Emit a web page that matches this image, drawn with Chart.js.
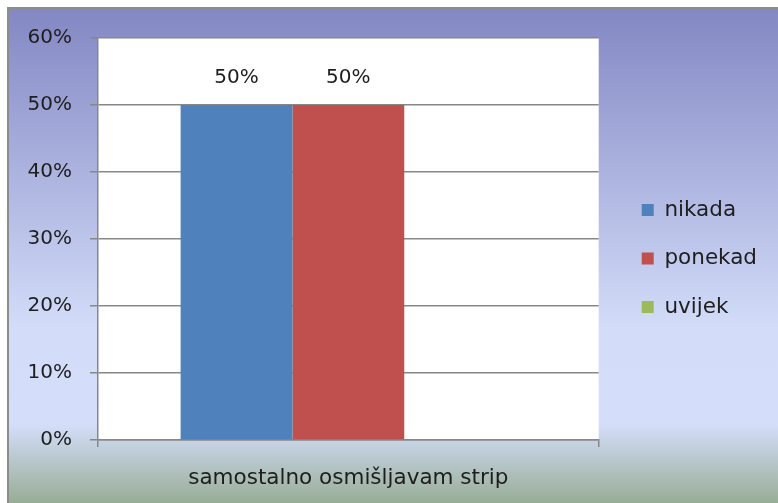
<!DOCTYPE html>
<html>
<head>
<meta charset="utf-8">
<title>samostalno osmišljavam strip</title>
<script src="https://cdn.jsdelivr.net/npm/chart.js@4.4.0/dist/chart.umd.min.js"></script>
<style>
    html, body { margin: 0; padding: 0; background: #fff; }
    #wrap { width: 778px; height: 503px; position: relative; }
</style>
</head>
<body>
<div id="wrap"><canvas id="stripChart"></canvas></div>
<script>
// Data
const categories = ['samostalno osmišljavam strip'];
const seriesNames = ['nikada', 'ponekad', 'uvijek'];
const nikadaValues = [50];
const ponekadValues = [50];
const uvijekValues = [0];
const seriesColors = ['#4F81BD', '#C0504D', '#9BBB59'];
const yTicks = [0, 10, 20, 30, 40, 50, 60];

const FONT = 'DejaVu Sans';
const TEXT = '#1e1e1e';
const LINE = '#878787';

// Gradient frame behind the chart and white plot area
const backdrop = {
    id: 'backdrop',
    beforeDraw(chart) {
        const { ctx, width, height, chartArea } = chart;
        ctx.save();
        ctx.fillStyle = '#fff';
        ctx.fillRect(0, 0, width, height);
        const g = ctx.createLinearGradient(0, 8, 0, height);
        g.addColorStop(0, '#8387C3');
        g.addColorStop(0.65, '#D3DDF9');
        g.addColorStop(0.84, '#D4DEFA');
        g.addColorStop(1, '#98AD96');
        ctx.fillStyle = g;
        ctx.fillRect(8, 8, width - 8, height - 8);
        ctx.strokeStyle = '#8c8c8c';
        ctx.lineWidth = 2;
        ctx.beginPath();
        ctx.moveTo(8, height);
        ctx.lineTo(8, 8);
        ctx.lineTo(width, 8);
        ctx.stroke();
        ctx.fillStyle = '#fff';
        ctx.fillRect(chartArea.left, chartArea.top, chartArea.right - chartArea.left, chartArea.bottom - chartArea.top);
        ctx.restore();
    }
};

// Move the legend away from the plot area and up a little
const legendNudge = {
    id: 'legendNudge',
    afterLayout(chart) {
        const lg = chart.legend;
        if (!lg) return;
        lg.left += 16;
        lg.right += 16;
        lg.top -= 12;
        lg.bottom -= 12;
    }
};

// Value labels above the bars
const barValues = {
    id: 'barValues',
    afterDatasetsDraw(chart) {
        const { ctx } = chart;
        ctx.save();
        ctx.font = `20px "${FONT}"`;
        ctx.fillStyle = TEXT;
        ctx.textAlign = 'center';
        ctx.textBaseline = 'middle';
        chart.data.datasets.forEach((ds, i) => {
            const meta = chart.getDatasetMeta(i);
            if (meta.hidden) return;
            meta.data.forEach((bar, j) => {
                const v = ds.data[j];
                if (!v) return;
                ctx.fillText(v + '%', bar.x, bar.y - 27);
            });
        });
        ctx.restore();
    }
};

const valueLists = [nikadaValues, ponekadValues, uvijekValues];

new Chart(document.getElementById('stripChart'), {
    type: 'bar',
    data: {
        labels: categories,
        datasets: seriesNames.map((name, i) => ({
            label: name,
            data: valueLists[i],
            backgroundColor: seriesColors[i],
            borderWidth: 0
        }))
    },
    options: {
        responsive: true,
        maintainAspectRatio: false,
        animation: false,
        layout: { padding: { left: 0, top: 38, right: 27, bottom: 0 } },
        datasets: { bar: { categoryPercentage: 0.67, barPercentage: 1.0 } },
        plugins: {
            legend: {
                position: 'right',
                labels: {
                    font: { family: FONT, size: 21.5 },
                    color: TEXT,
                    boxWidth: 12,
                    boxHeight: 12,
                    padding: 27
                }
            },
            tooltip: { enabled: false }
        },
        scales: {
            x: {
                grid: { offset: true, drawOnChartArea: false, tickLength: 7, color: LINE, lineWidth: 1.5 },
                border: { color: LINE, width: 1.5 },
                ticks: { font: { family: FONT, size: 21.5 }, color: TEXT, padding: 19 },
                afterFit(s) { s.height = 63; }
            },
            y: {
                min: 0,
                max: 60,
                afterBuildTicks(s) { s.ticks = yTicks.map(v => ({ value: v })); },
                ticks: { font: { family: FONT, size: 20 }, color: TEXT, padding: 18, callback: v => v + '%' },
                grid: { color: LINE, lineWidth: 1.5, tickLength: 8 },
                border: { color: LINE, width: 1.5 },
                afterFit(s) { s.width = 98; }
            }
        }
    },
    plugins: [backdrop, legendNudge, barValues]
});
</script>
</body>
</html>
